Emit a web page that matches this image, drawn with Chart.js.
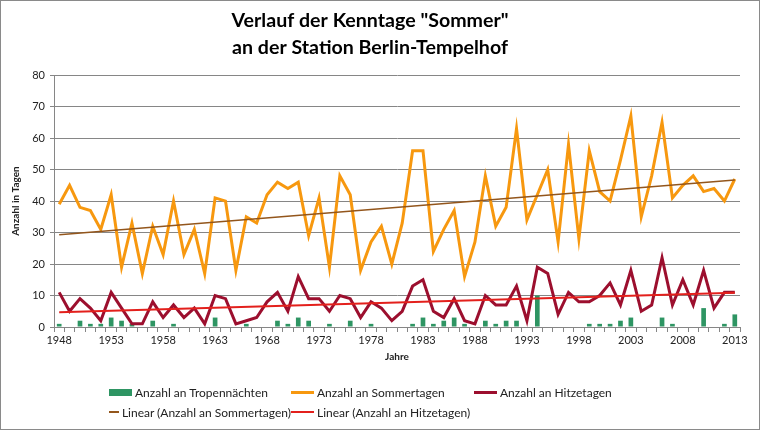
<!DOCTYPE html>
<html>
<head>
<meta charset="utf-8">
<script src="https://cdn.jsdelivr.net/npm/chart.js@4.4.0/dist/chart.umd.min.js"></script>
<style>
body { margin: 0; background: #fff; }
#wrap { position: relative; width: 760px; height: 430px; font-family: Lato, "Open Sans", sans-serif; }
#frame { position: absolute; left: 0; top: 0; width: 758px; height: 428px; border: 1px solid #8a8a8a; pointer-events: none; }
#legend { position: absolute; left: 109px; top: 384px; display: grid; grid-template-columns: 182px 183px 183px; row-gap: 4px; font-size: 12px; color: #222; }
.item { display: flex; align-items: center; height: 16px; white-space: nowrap; }
.sw { display: inline-block; width: 23px; margin-right: 3px; }
</style>
</head>
<body>
<div id="wrap">
  <canvas id="myChart" width="760" height="430"></canvas>
  <div id="legend"></div>
  <div id="frame"></div>
</div>
<script>
var years = [1948,1949,1950,1951,1952,1953,1954,1955,1956,1957,
             1958,1959,1960,1961,1962,1963,1964,1965,1966,1967,
             1968,1969,1970,1971,1972,1973,1974,1975,1976,1977,
             1978,1979,1980,1981,1982,1983,1984,1985,1986,1987,
             1988,1989,1990,1991,1992,1993,1994,1995,1996,1997,
             1998,1999,2000,2001,2002,2003,2004,2005,2006,2007,
             2008,2009,2010,2011,2012,2013];
var xTickLabels = ['1948','1953','1958','1963','1968','1973','1978','1983','1988','1993','1998','2003','2008','2013'];

var tropennaechte = [1,0,2,1,1,3,2,1,0,2,
                     0,1,0,0,0,3,0,0,1,0,
                     0,2,1,3,2,0,1,0,2,0,
                     1,0,0,0,1,3,1,2,3,1,
                     0,2,1,2,2,0,10,0,0,0,
                     0,1,1,1,2,3,0,0,3,1,
                     0,0,6,0,1,4];
var sommertage = [39,45,38,37,31,42,19,33,17,32,
                  23,40,23,31,17,41,40,18,35,33,
                  42,46,44,46,29,41,19,48,42,18,
                  27,32,20,33,56,56,24,31,37,16,
                  27,48,32,38,63,34,42,50,27,58,
                  28,56,43,40,53,67,35,48,65,41,
                  45,48,43,44,40,47];
var hitzetage = [11,5,9,6,2,11,6,1,1,8,
                 3,7,3,6,1,10,9,1,2,3,
                 8,11,5,16,9,9,5,10,9,3,
                 8,6,2,5,13,15,5,3,9,2,
                 1,10,7,7,13,2,19,17,4,11,
                 8,8,10,14,7,18,5,7,22,7,
                 15,7,18,6,11,11];
// Endpunkte der Trendlinien
var sommerTrendEnds = [29.3, 46.7];
var hitzeTrendEnds = [4.7, 10.9];

var titleLines = ['Verlauf der Kenntage "Sommer"', 'an der Station Berlin-Tempelhof'];

function trendSeries(ends) {
  var arr = years.map(function () { return null; });
  arr[0] = ends[0];
  arr[arr.length - 1] = ends[1];
  return arr;
}

var element = document.getElementById('myChart').getContext('2d');
var fontFam = 'Lato, "Open Sans", sans-serif';

var chartData = {
  labels: years,
  datasets: [{
    type: 'bar',
    label: 'Anzahl an Tropennächten',
    data: tropennaechte,
    backgroundColor: '#2e9563',
    categoryPercentage: 1,
    barPercentage: 0.45,
    order: 5
  }, {
    type: 'line',
    label: 'Anzahl an Sommertagen',
    data: sommertage,
    borderColor: '#f7980f',
    borderWidth: 3,
    pointRadius: 0,
    tension: 0,
    order: 3
  }, {
    type: 'line',
    label: 'Anzahl an Hitzetagen',
    data: hitzetage,
    borderColor: '#9c0f2e',
    borderWidth: 3,
    pointRadius: 0,
    tension: 0,
    order: 2
  }, {
    type: 'line',
    label: 'Linear (Anzahl an Sommertagen)',
    data: trendSeries(sommerTrendEnds),
    borderColor: '#93561c',
    borderWidth: 1.5,
    pointRadius: 0,
    spanGaps: true,
    order: 1
  }, {
    type: 'line',
    label: 'Linear (Anzahl an Hitzetagen)',
    data: trendSeries(hitzeTrendEnds),
    borderColor: '#e3201c',
    borderWidth: 2,
    pointRadius: 0,
    spanGaps: true,
    order: 0
  }]
};

var chartOptions = {
  responsive: false,
  animation: false,
  layout: { padding: { left: 0, right: 20, top: 0, bottom: 53 } },
  plugins: {
    legend: { display: false },
    tooltip: { enabled: false },
    title: {
      display: true,
      text: titleLines,
      color: '#000',
      font: { family: fontFam, size: 19.6, weight: 'bold', lineHeight: 1.38 },
      padding: { top: 7, bottom: 14 }
    }
  },
  scales: {
    x: {
      offset: true,
      grid: { offset: true, drawOnChartArea: false, drawTicks: true, tickLength: 5, color: '#868686' },
      border: { color: '#868686' },
      ticks: {
        autoSkip: false, maxRotation: 0, padding: 2, color: '#222',
        font: { family: fontFam, size: 11 },
        callback: function (v, i) {
          var y = String(years[i]);
          return xTickLabels.indexOf(y) >= 0 ? y : '';
        }
      },
      title: { display: true, text: 'Jahre', color: '#222', font: { family: fontFam, size: 10, weight: 'bold' }, padding: { top: 0, bottom: 14 } },
      afterFit: function (s) { s.height = 50; }
    },
    y: {
      min: 0, max: 80,
      grid: { color: '#868686', tickLength: 4 },
      border: { color: '#868686' },
      ticks: { stepSize: 10, padding: 5, color: '#222', font: { family: fontFam, size: 11 } },
      title: { display: true, text: 'Anzahl in Tagen', color: '#222', font: { family: fontFam, size: 10, weight: 'bold' }, padding: { top: 10, bottom: 0 } },
      afterFit: function (s) { s.width = 54; }
    }
  }
};

var chart = new Chart(element, { type: 'bar', data: chartData, options: chartOptions });

// Legende als Raster (3 Spalten) wie im Original
var legendEl = document.getElementById('legend');
chart.data.datasets.forEach(function (ds) {
  var item = document.createElement('div');
  item.className = 'item';
  var sw = document.createElement('span');
  sw.className = 'sw';
  if (ds.type === 'bar') {
    sw.style.height = '7px';
    sw.style.background = ds.backgroundColor;
  } else {
    sw.style.height = (ds.borderWidth >= 3 ? 3 : 2) + 'px';
    sw.style.background = ds.borderColor;
  }
  item.appendChild(sw);
  item.appendChild(document.createTextNode(ds.label));
  legendEl.appendChild(item);
});
</script>
</body>
</html>
